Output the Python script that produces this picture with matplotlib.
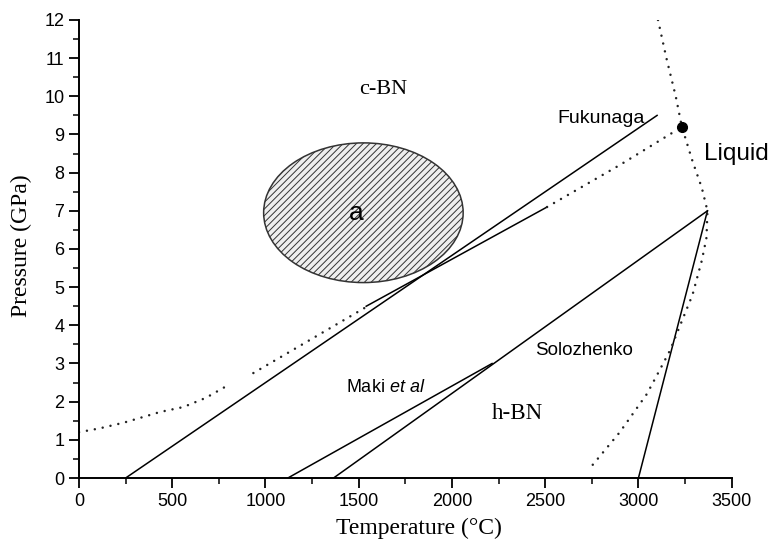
import matplotlib
matplotlib.use("Agg")
import matplotlib.pyplot as plt
from matplotlib.patches import Ellipse
from matplotlib.ticker import MultipleLocator

# Phase boundary lines (temperature in C, pressure in GPa)
fukunaga_T = [250, 3100]
fukunaga_P = [0, 9.5]
corrigan_T = [1540, 2510]
corrigan_P = [4.5, 7.1]
solozhenko_T = [1365, 3370]
solozhenko_P = [0, 7.0]
maki_T = [1120, 2215]
maki_P = [0, 3.0]
melt_hbn_T = [3000, 3370]
melt_hbn_P = [0, 7.0]

# dotted equilibrium curve, drawn in pieces where it is not hidden
dot1_T = [0, 110, 240, 345, 435, 560, 680, 795]
dot1_P = [1.2, 1.3, 1.45, 1.6, 1.73, 1.86, 2.1, 2.42]
dot2_T = [935, 1540]
dot2_P = [2.75, 4.48]
dot3_T = [2510, 2900, 3207]
dot3_P = [7.1, 8.2, 9.12]

# dotted melting curve
liq_T = [3105, 3150, 3200, 3233, 3290, 3340, 3370, 3365, 3340, 3290, 3207, 3170, 3100, 3045, 2900, 2730]
liq_P = [12.0, 11.0, 10.0, 9.2, 8.3, 7.6, 7.0, 6.3, 5.7, 4.8, 3.8, 3.35, 2.7, 2.2, 1.2, 0.2]

triple_T = [3233]
triple_P = [9.2]

region_center = (1525, 6.95)
region_width = 1070
region_height = 3.66

plt.rcParams['hatch.linewidth'] = 0.7
plt.rcParams['hatch.color'] = '#444444'
plt.rcParams['mathtext.fontset'] = 'custom'
plt.rcParams['mathtext.rm'] = 'Liberation Sans'
plt.rcParams['mathtext.it'] = 'Liberation Sans:italic'

fig = plt.figure(figsize=(7.71, 5.43), dpi=100)
ax = fig.add_axes([0.1025, 0.1197, 0.8465, 0.8435])

lw = 1.1
ax.plot(fukunaga_T, fukunaga_P, color='black', lw=lw)
ax.plot(corrigan_T, corrigan_P, color='black', lw=lw)
ax.plot(solozhenko_T, solozhenko_P, color='black', lw=lw)
ax.plot(maki_T, maki_P, color='black', lw=lw)
ax.plot(melt_hbn_T, melt_hbn_P, color='black', lw=lw)

dot_style = dict(color='#222222', lw=1.8, linestyle=(0, (0.01, 3.2)), dash_capstyle='round')
ax.plot(dot1_T, dot1_P, **dot_style)
ax.plot(dot2_T, dot2_P, **dot_style)
ax.plot(dot3_T, dot3_P, **dot_style)
ax.plot(liq_T, liq_P, **dot_style)

ax.plot(triple_T, triple_P, 'o', color='black', markersize=7)

ell = Ellipse(region_center, region_width, region_height, facecolor='#eeeeee',
              edgecolor='#333333', lw=1.1, hatch='/////')
ax.add_patch(ell)

sans = 'Liberation Sans'
serif = 'Liberation Serif'
ax.text(1486, 6.94, 'a', fontsize=19, family=sans, ha='center', va='center')
ax.text(1630, 10.17, 'c-BN', fontsize=16, family=serif, ha='center', va='center')
ax.text(2800, 9.43, 'Fukunaga', fontsize=14, family=sans, ha='center', va='center')
ax.text(3350, 8.5, 'Liquid', fontsize=17.5, family=sans, ha='left', va='center', clip_on=False)
ax.text(2708, 3.35, 'Solozhenko', fontsize=13.5, family=sans, ha='center', va='center')
ax.text(1430, 2.36, r'Maki $\it{et\ al}$', fontsize=13, family=sans, ha='left', va='center')
ax.text(2350, 1.7, 'h-BN', fontsize=16.5, family=serif, ha='center', va='center')

ax.set_xlim(0, 3500)
ax.set_ylim(0, 12)
ax.spines['top'].set_visible(False)
ax.spines['right'].set_visible(False)
ax.spines['left'].set_linewidth(1.4)
ax.spines['bottom'].set_linewidth(1.4)
ax.xaxis.set_major_locator(MultipleLocator(500))
ax.xaxis.set_minor_locator(MultipleLocator(250))
ax.yaxis.set_major_locator(MultipleLocator(1))
ax.yaxis.set_minor_locator(MultipleLocator(0.5))
ax.tick_params(which='major', direction='out', length=7, width=1.3, labelsize=13)
ax.tick_params(which='minor', direction='out', length=4, width=1.1)
for lbl in ax.get_xticklabels() + ax.get_yticklabels():
    lbl.set_family(sans)

ax.set_xlabel('Temperature (°C)', family=serif, fontsize=17)
ax.set_ylabel('Pressure (GPa)', family=serif, fontsize=17)
ax.xaxis.set_label_coords(0.521, -0.086)
ax.yaxis.set_label_coords(-0.072, 0.507)

fig.savefig('out.png', dpi=100)
